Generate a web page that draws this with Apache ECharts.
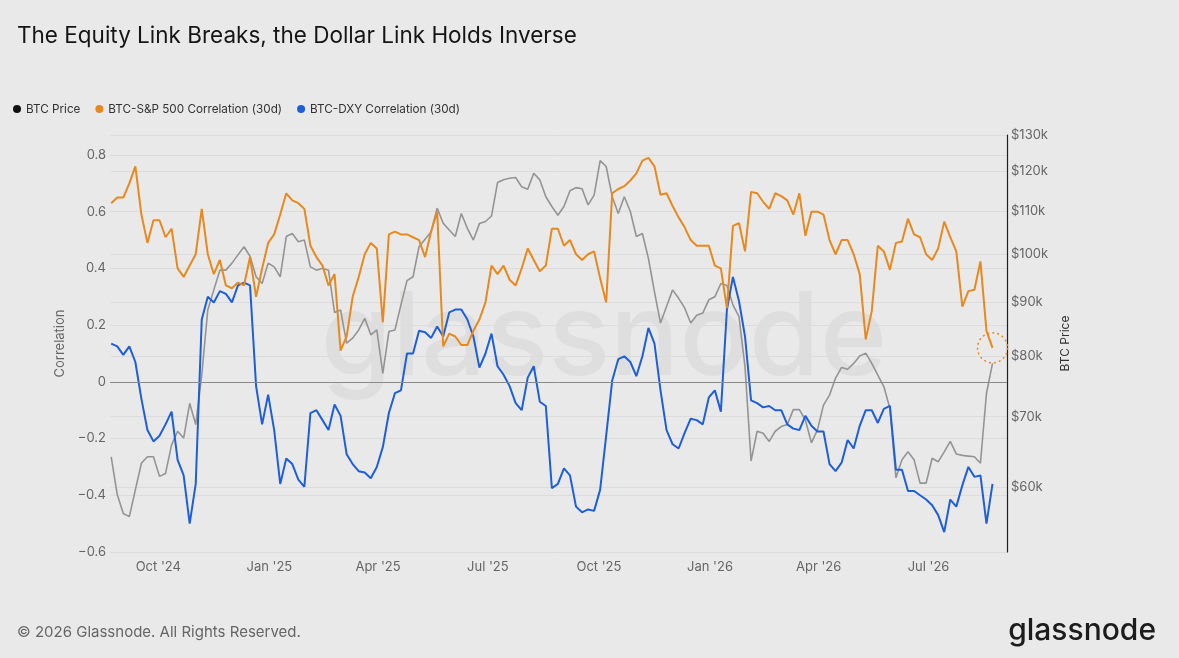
<!DOCTYPE html>
<html>
<head>
<meta charset="utf-8">
<script src="https://cdn.jsdelivr.net/npm/echarts@6.0.0/dist/echarts.min.js"></script>
<style>
  html, body { margin: 0; padding: 0; background: #e9e9e9; }
  #chart { width: 1179px; height: 658px; }
</style>
</head>
<body>
<div id="chart"></div>
<script>
// ---- data (5-day samples) ----
const dates = [
'2024-08-23','2024-08-28','2024-09-02','2024-09-07','2024-09-12','2024-09-17','2024-09-22','2024-09-27',
'2024-10-02','2024-10-07','2024-10-12','2024-10-17','2024-10-22','2024-10-27',
'2024-11-01','2024-11-06','2024-11-11','2024-11-16','2024-11-21','2024-11-26',
'2024-12-01','2024-12-06','2024-12-11','2024-12-16','2024-12-21','2024-12-26','2024-12-31',
'2025-01-05','2025-01-10','2025-01-15','2025-01-20','2025-01-25','2025-01-30',
'2025-02-04','2025-02-09','2025-02-14','2025-02-19','2025-02-24',
'2025-03-01','2025-03-06','2025-03-11','2025-03-16','2025-03-21','2025-03-26','2025-03-31',
'2025-04-05','2025-04-10','2025-04-15','2025-04-20','2025-04-25','2025-04-30',
'2025-05-05','2025-05-10','2025-05-15','2025-05-20','2025-05-25','2025-05-30',
'2025-06-04','2025-06-09','2025-06-14','2025-06-19','2025-06-24','2025-06-29',
'2025-07-04','2025-07-09','2025-07-14','2025-07-19','2025-07-24','2025-07-29',
'2025-08-03','2025-08-08','2025-08-13','2025-08-18','2025-08-23','2025-08-28',
'2025-09-02','2025-09-07','2025-09-12','2025-09-17','2025-09-22','2025-09-27',
'2025-10-02','2025-10-07','2025-10-12','2025-10-17','2025-10-22','2025-10-27',
'2025-11-01','2025-11-06','2025-11-11','2025-11-16','2025-11-21','2025-11-26',
'2025-12-01','2025-12-06','2025-12-11','2025-12-16','2025-12-21','2025-12-26','2025-12-31',
'2026-01-05','2026-01-10','2026-01-15','2026-01-20','2026-01-25','2026-01-30',
'2026-02-04','2026-02-09','2026-02-14','2026-02-19','2026-02-24',
'2026-03-01','2026-03-06','2026-03-11','2026-03-16','2026-03-21','2026-03-26','2026-03-31',
'2026-04-05','2026-04-10','2026-04-15','2026-04-20','2026-04-25','2026-04-30',
'2026-05-05','2026-05-10','2026-05-15','2026-05-20','2026-05-25','2026-05-30',
'2026-06-04','2026-06-09','2026-06-14','2026-06-19','2026-06-24','2026-06-29',
'2026-07-04','2026-07-09','2026-07-14','2026-07-19','2026-07-24','2026-07-29',
'2026-08-03','2026-08-08','2026-08-13','2026-08-18','2026-08-23'
];

const spxCorr = [
0.63,0.65,0.65,0.70,0.76,0.59,0.49,0.57,0.57,0.51,
0.54,0.40,0.37,0.41,0.45,0.61,0.45,0.38,0.43,0.34,
0.33,0.35,0.34,0.44,0.30,0.40,0.49,0.52,0.59,0.665,
0.64,0.63,0.61,0.48,0.44,0.41,0.34,0.38,0.11,0.16,
0.30,0.37,0.45,0.49,0.47,0.21,0.52,0.53,0.52,0.52,
0.51,0.50,0.44,0.53,0.60,0.125,0.17,0.16,0.13,0.13,
0.18,0.22,0.28,0.41,0.38,0.41,0.36,0.34,0.40,0.47,
0.43,0.39,0.41,0.54,0.54,0.48,0.50,0.45,0.43,0.45,
0.46,0.365,0.28,0.665,0.68,0.69,0.71,0.735,0.78,0.79,
0.76,0.66,0.665,0.62,0.58,0.545,0.50,0.48,0.48,0.48,
0.41,0.40,0.26,0.55,0.56,0.46,0.67,0.665,0.635,0.61,
0.665,0.655,0.64,0.59,0.665,0.515,0.60,0.60,0.59,0.50,
0.45,0.50,0.50,0.45,0.38,0.15,0.25,0.48,0.46,0.395,
0.49,0.495,0.575,0.52,0.51,0.45,0.43,0.47,0.565,0.51,
0.46,0.265,0.32,0.325,0.425,0.18,0.12
];

const dxyCorr = [
0.135,0.125,0.095,0.125,0.07,-0.06,-0.17,-0.21,-0.19,-0.15,
-0.105,-0.275,-0.33,-0.50,-0.36,0.22,0.30,0.28,0.32,0.31,
0.28,0.34,0.35,0.34,-0.015,-0.15,-0.045,-0.17,-0.36,-0.27,
-0.29,-0.345,-0.37,-0.11,-0.10,-0.135,-0.17,-0.08,-0.12,-0.255,
-0.29,-0.315,-0.32,-0.34,-0.30,-0.23,-0.11,-0.04,-0.03,0.10,
0.10,0.18,0.175,0.155,0.195,0.16,0.245,0.255,0.255,0.22,
0.16,0.05,0.10,0.17,0.055,0.025,-0.015,-0.075,-0.10,0.015,
0.055,-0.07,-0.085,-0.375,-0.36,-0.305,-0.33,-0.44,-0.46,-0.45,
-0.455,-0.38,-0.19,0.005,0.08,0.09,0.07,0.02,0.09,0.19,
0.135,-0.03,-0.17,-0.22,-0.235,-0.18,-0.13,-0.135,-0.15,-0.055,
-0.03,-0.105,0.255,0.37,0.285,0.16,-0.065,-0.075,-0.09,-0.085,
-0.10,-0.10,-0.15,-0.165,-0.17,-0.12,-0.155,-0.175,-0.175,-0.29,
-0.315,-0.285,-0.205,-0.235,-0.155,-0.10,-0.10,-0.145,-0.095,-0.085,
-0.31,-0.31,-0.385,-0.385,-0.40,-0.415,-0.435,-0.47,-0.53,-0.415,
-0.44,-0.365,-0.30,-0.335,-0.33,-0.50,-0.36
];

const btcPrice = [
64100,59000,56600,56200,59600,63200,64100,64100,61400,61800,
65800,67800,66800,72100,68800,76700,88500,92500,96600,96600,
98100,99900,101700,99600,95200,93800,98100,97300,95200,104000,
104700,102800,103200,97300,96600,97000,96600,88000,88500,82300,
83200,84700,86900,83800,84700,77000,84400,84700,89500,94400,
95200,101700,103400,105100,110700,107100,105500,104000,109400,105900,
103200,107000,107500,108800,117100,117800,118200,118400,116000,115400,
119500,117800,113500,111100,109000,111100,115000,115800,115500,111500,
113900,122900,121300,113500,109400,113500,109900,104000,104700,99100,
92100,86000,89200,92500,90800,88900,86000,87500,87900,90500,
91100,93800,93400,89500,87200,78100,63500,67800,67500,66300,
67800,68500,68800,71100,71100,69500,66100,68000,71800,73400,
76200,78000,77700,78700,80000,80500,78700,76700,74800,71300,
61200,63700,64800,63700,60500,60500,63900,63400,64800,66300,
64500,64300,64200,64100,63200,73700,78700
];

const corrTicks = [-0.6, -0.4, -0.2, 0, 0.2, 0.4, 0.6, 0.8];
const priceTicks = [60000, 70000, 80000, 90000, 100000, 110000, 120000, 130000];
const monthTicks = ['2024-10-01','2025-01-01','2025-04-01','2025-07-01','2025-10-01','2026-01-01','2026-04-01','2026-07-01'];
const monthNames = ['Jan','Feb','Mar','Apr','May','Jun','Jul','Aug','Sep','Oct','Nov','Dec'];
const X_START = '2024-08-22', X_END = '2026-09-04';

const NAME_BTC = 'BTC Price';
const NAME_SPX = 'BTC-S&P 500 Correlation (30d)';
const NAME_DXY = 'BTC-DXY Correlation (30d)';

const PRICE_MIN = 52000, PRICE_MAX = 130000;
const FONT = 'Inter, "Noto Sans", sans-serif';

const toTime = s => { const p = s.split('-').map(Number); return new Date(p[0], p[1] - 1, p[2]).getTime(); };
const pair = arr => dates.map((d, i) => [toTime(d), arr[i]]);

const chart = echarts.init(document.getElementById('chart'), null, { renderer: 'canvas' });

const option = {
  backgroundColor: '#e9e9e9',
  animation: false,
  textStyle: { fontFamily: FONT },
  title: {
    text: 'The Equity Link Breaks, the Dollar Link Holds Inverse',
    left: 12, top: 20,
    textStyle: { fontFamily: FONT, fontSize: 22.5, fontWeight: 400, color: '#151515' }
  },
  legend: {
    left: 8, top: 98,
    icon: 'circle', itemWidth: 8, itemHeight: 8, itemGap: 15,
    textStyle: { fontFamily: FONT, fontSize: 11.7, color: '#333' },
    data: [
      { name: NAME_BTC, itemStyle: { color: '#111' } },
      { name: NAME_SPX, itemStyle: { color: '#e8891d' } },
      { name: NAME_DXY, itemStyle: { color: '#1d5fd8' } }
    ]
  },
  grid: { left: 110, right: 172, top: 135, bottom: 106, containLabel: false },
  xAxis: [
    {
      type: 'value',
      min: toTime(X_START), max: toTime(X_END),
      axisLine: { show: false },
      axisTick: { show: false, customValues: monthTicks.map(toTime) },
      splitLine: { show: false },
      axisLabel: {
        customValues: monthTicks.map(toTime),
        color: '#666', fontSize: 13, fontFamily: FONT, margin: 9,
        formatter: v => { const d = new Date(v); return monthNames[d.getMonth()] + " '" + String(d.getFullYear()).slice(2); }
      }
    }
  ],
  yAxis: [
    {
      type: 'value', position: 'left',
      min: -0.6, max: 0.8705,
      name: 'Correlation', nameLocation: 'middle', nameGap: 41,
      nameTextStyle: { color: '#666', fontSize: 13, fontFamily: FONT },
      axisLine: { show: false },
      axisTick: { show: false, customValues: corrTicks },
      axisLabel: {
        customValues: corrTicks, color: '#666', fontSize: 13, fontFamily: FONT, margin: 4,
        formatter: v => { const r = Math.round(v * 10) / 10; return r === 0 ? '0' : (r < 0 ? '\u2212' + Math.abs(r) : String(r)); }
      },
      splitLine: { lineStyle: { color: '#dcdcdc', width: 1 } }
    },
    {
      type: 'log', position: 'right',
      min: PRICE_MIN, max: PRICE_MAX,
      show: false
    },
    {
      type: 'value', position: 'right',
      min: Math.log(PRICE_MIN), max: Math.log(PRICE_MAX),
      name: 'BTC Price', nameLocation: 'middle', nameGap: 40,
      nameTextStyle: { color: '#333', fontSize: 12, fontFamily: FONT },
      axisLine: { show: true, lineStyle: { color: '#222', width: 1.2 } },
      axisTick: { show: false, customValues: priceTicks.map(Math.log) },
      axisLabel: {
        customValues: priceTicks.map(Math.log), color: '#666', fontSize: 13, fontFamily: FONT, margin: 4,
        formatter: v => '$' + Math.round(Math.exp(v) / 1000) + 'k'
      },
      splitLine: { show: true, lineStyle: { color: '#dcdcdc', width: 1 } }
    }
  ],
  series: [
    {
      name: NAME_BTC, type: 'line', yAxisIndex: 1, data: pair(btcPrice),
      showSymbol: false, symbol: 'none', z: 1,
      lineStyle: { color: '#949494', width: 1.6 }, itemStyle: { color: '#949494' }
    },
    {
      name: NAME_SPX, type: 'line', yAxisIndex: 0, data: pair(spxCorr),
      showSymbol: false, symbol: 'none', z: 3,
      lineStyle: { color: '#e8891d', width: 2 }, itemStyle: { color: '#e8891d' },
      markPoint: {
        silent: true, symbol: 'circle', symbolSize: 30, label: { show: false },
        itemStyle: { color: 'rgba(0,0,0,0)', borderColor: '#e8891d', borderWidth: 1.5, borderType: [2, 3] },
        data: [{ coord: [toTime(dates[dates.length - 1]), spxCorr[spxCorr.length - 1]] }]
      }
    },
    {
      name: NAME_DXY, type: 'line', yAxisIndex: 0, data: pair(dxyCorr),
      showSymbol: false, symbol: 'none', z: 2,
      lineStyle: { color: '#1d5fd8', width: 2 }, itemStyle: { color: '#1d5fd8' },
      markLine: {
        silent: true, symbol: 'none', label: { show: false },
        lineStyle: { color: '#8a8a8a', width: 1, type: 'solid' },
        data: [{ yAxis: 0 }]
      }
    }
  ],
  graphic: [
    {
      type: 'text', z: -1, silent: true,
      style: { text: 'glassnode', x: 604, y: 340, align: 'center', verticalAlign: 'middle',
               font: '500 115px Inter, sans-serif', fill: 'rgba(0,0,0,0.045)' }
    },
    {
      type: 'text', silent: true,
      style: { text: '\u00A9 2026 Glassnode. All Rights Reserved.', x: 17, y: 632, verticalAlign: 'middle',
               font: '400 15px Inter, sans-serif', fill: '#666' }
    },
    {
      type: 'text', silent: true,
      style: { text: 'glassnode', x: 1156, y: 631, align: 'right', verticalAlign: 'middle',
               font: '500 30px Inter, sans-serif', fill: '#1c1c1c' }
    }
  ]
};

chart.setOption(option);
</script>
</body>
</html>
